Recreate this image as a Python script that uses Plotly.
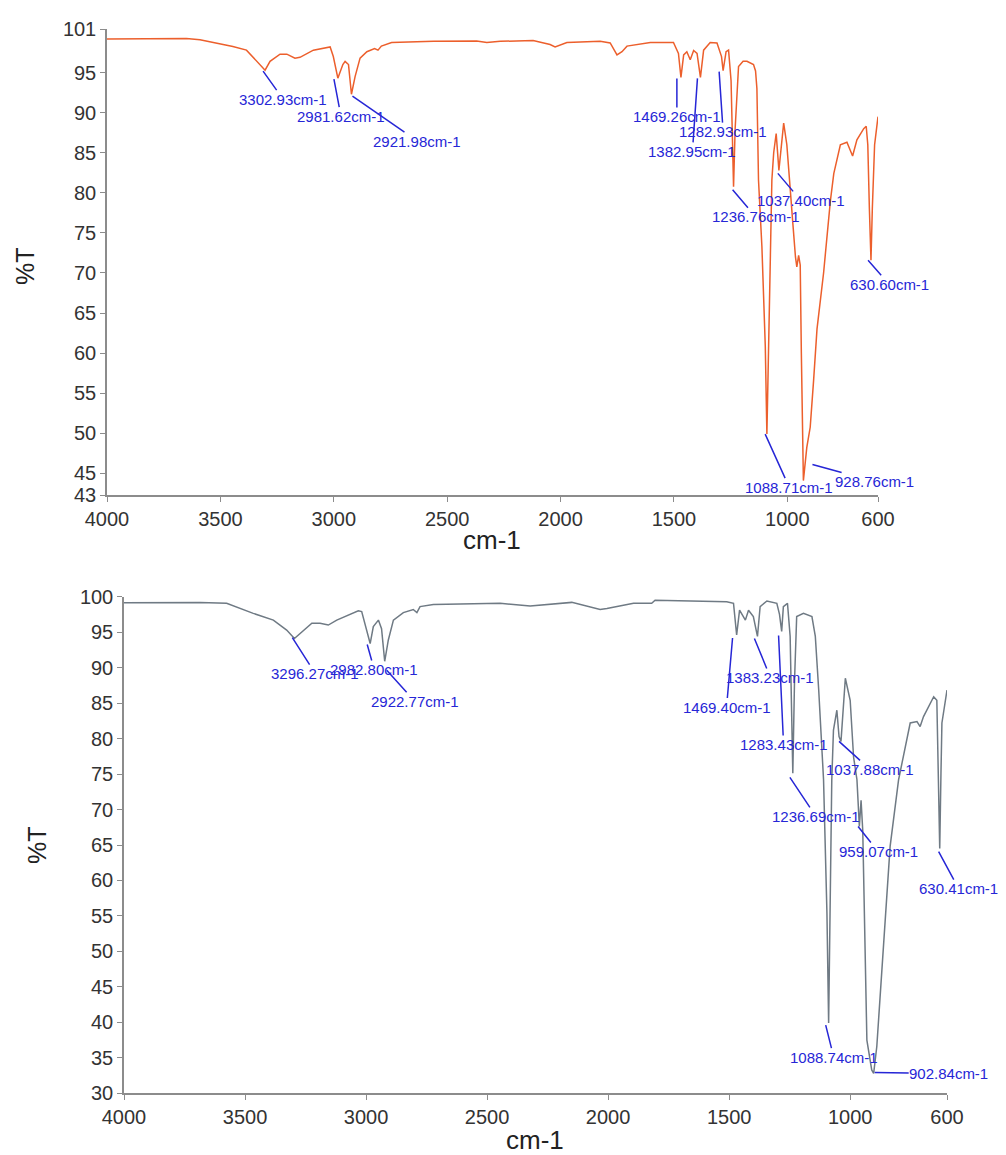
import plotly.graph_objects as go

# ---------------- data: top spectrum (orange) ----------------
top_wavenumber = [4000, 3650, 3590, 3445, 3385, 3340, 3303, 3281, 3237, 3207, 3171, 3149, 3090,
                  3016, 3002, 2982, 2960, 2950, 2935, 2922, 2906, 2884, 2854, 2820, 2805, 2790,
                  2745, 2560, 2370, 2325, 2266, 2121, 2046, 2024, 1972, 1825, 1781, 1751, 1729,
                  1707, 1604, 1502, 1480, 1469, 1457, 1443, 1428, 1413, 1398, 1383, 1369, 1340,
                  1310, 1290, 1283, 1270, 1259, 1248, 1242, 1237, 1230, 1222, 1215, 1195, 1178,
                  1149, 1140, 1134, 1127, 1112, 1097, 1090, 1083, 1073, 1068, 1060, 1049, 1037,
                  1030, 1016, 1002, 990, 975, 964, 958, 950, 943, 938, 933, 929, 914, 899, 884,
                  869, 840, 810, 795, 781, 766, 737, 712, 693, 663, 652, 645, 638, 631, 625, 615,
                  600]
top_transmittance = [99.2, 99.25, 99.1, 98.25, 97.8, 96.4, 95.3, 96.4, 97.3, 97.3, 96.8, 96.9, 97.8,
                     98.2, 97.0, 94.3, 96.0, 96.4, 96.0, 92.3, 94.5, 96.8, 97.6, 98.0, 97.8, 98.3,
                     98.75, 98.9, 98.95, 98.75, 98.9, 99.0, 98.5, 98.2, 98.75, 98.9, 98.7, 97.2, 97.6,
                     98.3, 98.75, 98.75, 97.4, 94.4, 97.2, 97.6, 96.6, 97.75, 97.4, 94.4, 97.8, 98.75,
                     98.7, 97.0, 95.25, 97.6, 97.8, 94.0, 88.0, 80.75, 88.0, 93.25, 95.75, 96.4, 96.4,
                     96.0, 95.2, 93.0, 81.6, 73.3, 60.8, 49.9, 60.8, 73.3, 81.6, 85.0, 87.4, 82.8,
                     85.0, 88.7, 86.0, 81.0, 76.0, 72.0, 70.75, 72.2, 71.0, 60.0, 50.0, 44.1, 48.25,
                     50.75, 56.6, 63.0, 70.0, 79.0, 82.4, 84.0, 86.0, 86.3, 84.6, 86.6, 88.0, 88.3,
                     86.0, 78.0, 71.6, 78.0, 86.0, 89.5]

# ---------------- data: bottom spectrum (grey) ----------------
bottom_wavenumber = [4000, 3686, 3576, 3466, 3383, 3328, 3296, 3273, 3224, 3190, 3156, 3121, 3032,
                     3018, 2998, 2983, 2970, 2949, 2936, 2923, 2908, 2887, 2846, 2805, 2790, 2777,
                     2722, 2446, 2322, 2150, 2033, 2005, 1895, 1820, 1806, 1510, 1482, 1469, 1457,
                     1433, 1420, 1400, 1383, 1372, 1344, 1303, 1292, 1283, 1276, 1259, 1248, 1242,
                     1237, 1230, 1221, 1193, 1158, 1144, 1130, 1110, 1096, 1089, 1082, 1076, 1069,
                     1055, 1046, 1038, 1020, 1000, 986, 972, 962, 955, 948, 938, 931, 911, 903, 890,
                     862, 835, 800, 780, 752, 724, 711, 697, 655, 642, 636, 630, 625, 621, 600]
bottom_transmittance = [99.15, 99.2, 99.07, 97.65, 96.7, 95.3, 94.1, 94.8, 96.25, 96.25, 96.0, 96.7, 98.0,
                        97.9, 95.3, 93.4, 95.8, 96.7, 95.5, 90.9, 93.9, 96.7, 97.75, 98.2, 97.75, 98.6,
                        98.9, 99.07, 98.7, 99.2, 98.2, 98.35, 99.07, 99.07, 99.5, 99.3, 99.07, 94.6, 98.1,
                        96.7, 98.1, 97.2, 94.4, 98.6, 99.4, 99.07, 97.5, 95.1, 98.6, 99.07, 94.4, 85.0,
                        75.1, 88.0, 97.2, 97.65, 97.2, 94.4, 86.85, 74.2, 55.4, 39.9, 55.4, 74.2, 81.2,
                        84.0, 80.3, 79.6, 88.5, 85.4, 77.4, 74.2, 67.6, 71.3, 67.0, 50.7, 37.5, 33.3, 32.8, 36.6,
                        50.7, 64.8, 74.2, 77.4, 82.2, 82.4, 81.7, 83.1, 85.9, 85.4, 77.0, 64.5, 75.0, 82.2, 86.85]

# ---------------- peak labels ----------------
top_peak_text = ["3302.93cm-1", "2981.62cm-1", "2921.98cm-1", "1469.26cm-1", "1382.95cm-1",
                 "1282.93cm-1", "1236.76cm-1", "1037.40cm-1", "630.60cm-1", "1088.71cm-1", "928.76cm-1"]
top_peak_wavenumber = [3302.93, 2981.62, 2921.98, 1469.26, 1382.95, 1282.93, 1236.76, 1037.40,
                       630.60, 1088.71, 928.76]
top_peak_transmittance = [95.3, 94.3, 92.3, 94.4, 94.4, 95.25, 80.75, 82.8, 71.6, 49.9, 44.1]

bottom_peak_text = ["3296.27cm-1", "2982.80cm-1", "2922.77cm-1", "1383.23cm-1", "1469.40cm-1",
                    "1283.43cm-1", "1037.88cm-1", "1236.69cm-1", "959.07cm-1", "630.41cm-1",
                    "1088.74cm-1", "902.84cm-1"]
bottom_peak_wavenumber = [3296.27, 2982.80, 2922.77, 1383.23, 1469.40, 1283.43, 1037.88, 1236.69,
                          959.07, 630.41, 1088.74, 902.84]
bottom_peak_transmittance = [94.1, 93.4, 90.9, 94.4, 94.6, 95.1, 79.6, 75.1, 67.6, 64.5, 39.9, 32.8]

# label placement (pixel offsets from the peak: line start x, y-up, text x, y-up)
top_label_layout = [(-2, -1, 18, -29), (-4, -1, 3, -38), (1, -2, 66, -47), (-4, -1, -4, -39),
                    (-3, -1, -8, -74), (-4, -1, 0, -61), (-1, -3, 22, -30), (-1, -3, 22, -30),
                    (-3, 0, 18, -24), (-2, 0, 22, -53), (9, 16, 71, -1)]
bottom_label_layout = [(-2, 1, 21, -35), (-3, -1, 4, -26), (2, -9, 30, -40), (-3, -2, 13, -41),
                       (-4, -3, -10, -72), (-3, -4, 2, -113), (-2, 0, 29, -28), (-3, -4, 23, -43),
                       (-2, 0, 18, -25), (-1, -3, 19, -40), (-3, -2, 5, -34), (1, 1, 75, 0)]

x_ticks = [4000, 3500, 3000, 2500, 2000, 1500, 1000, 600]
top_y_tickvals = [42.3, 45, 50, 55, 60, 65, 70, 75, 80, 85, 90, 95, 100.4]
top_y_ticktext = ["43", "45", "50", "55", "60", "65", "70", "75", "80", "85", "90", "95", "101"]
bottom_y_ticks = [30, 35, 40, 45, 50, 55, 60, 65, 70, 75, 80, 85, 90, 95, 100]

W, H = 1006, 1155
FONT = "Liberation Sans, Arial, sans-serif"
LABEL_BLUE = "#2626d6"
AXIS_GREY = "#8c8c8c"

fig = go.Figure()
fig.add_trace(go.Scatter(x=top_wavenumber, y=top_transmittance, mode="lines",
                         line=dict(color="#ec5f2c", width=1.5), xaxis="x", yaxis="y",
                         hoverinfo="skip"))
fig.add_trace(go.Scatter(x=bottom_wavenumber, y=bottom_transmittance, mode="lines",
                         line=dict(color="#6f7a84", width=1.5), xaxis="x2", yaxis="y2",
                         hoverinfo="skip"))

annotations = []


def add_labels(texts, ws, ts, layout, xr, yr):
    for txt, w, t, (sx, sy, tx, ty) in zip(texts, ws, ts, layout):
        annotations.append(dict(
            x=w, y=t, xref=xr, yref=yr, text=txt, showarrow=True,
            xshift=sx, yshift=sy, ax=tx - sx, ay=-(ty - sy),
            arrowhead=0, arrowwidth=1.5, arrowcolor=LABEL_BLUE, standoff=0, startstandoff=0,
            font=dict(family=FONT, size=15, color=LABEL_BLUE), borderpad=0,
        ))


add_labels(top_peak_text, top_peak_wavenumber, top_peak_transmittance, top_label_layout, "x", "y")
add_labels(bottom_peak_text, bottom_peak_wavenumber, bottom_peak_transmittance, bottom_label_layout, "x2", "y2")

# axis titles
for txt, px, py, ang, size in [("%T", 25, 266, -90, 25), ("cm-1", 492, 540, 0, 26),
                               ("%T", 37, 845, -90, 25), ("cm-1", 535, 1140, 0, 26)]:
    annotations.append(dict(x=px / W, y=1 - py / H, xref="paper", yref="paper", text=txt,
                            showarrow=False, textangle=ang, xanchor="center", yanchor="middle",
                            font=dict(family=FONT, size=size, color="#222222")))

axis_common = dict(showline=True, linecolor=AXIS_GREY, linewidth=1.5, ticks="outside",
                   ticklen=5, tickwidth=1.2, tickcolor=AXIS_GREY, showgrid=False, zeroline=False,
                   tickfont=dict(family=FONT, size=20, color="#333333"), automargin=False)

fig.update_layout(
    width=W, height=H, margin=dict(l=0, r=0, t=0, b=0),
    paper_bgcolor="white", plot_bgcolor="white", showlegend=False,
    xaxis=dict(domain=[107 / W, 878 / W], range=[4000, 600], tickvals=x_ticks, anchor="y",
               **axis_common),
    yaxis=dict(domain=[1 - 495 / H, 1 - 29.3 / H], range=[42.3, 100.4], tickvals=top_y_tickvals,
               ticktext=top_y_ticktext, anchor="x", **axis_common),
    xaxis2=dict(domain=[124 / W, 947 / W], range=[4000, 600], tickvals=x_ticks, anchor="y2",
                **axis_common),
    yaxis2=dict(domain=[1 - 1093.3 / H, 1 - 596.7 / H], range=[30, 100], tickvals=bottom_y_ticks,
                anchor="x2", **axis_common),
    annotations=annotations,
)

fig.write_html("out.html")
